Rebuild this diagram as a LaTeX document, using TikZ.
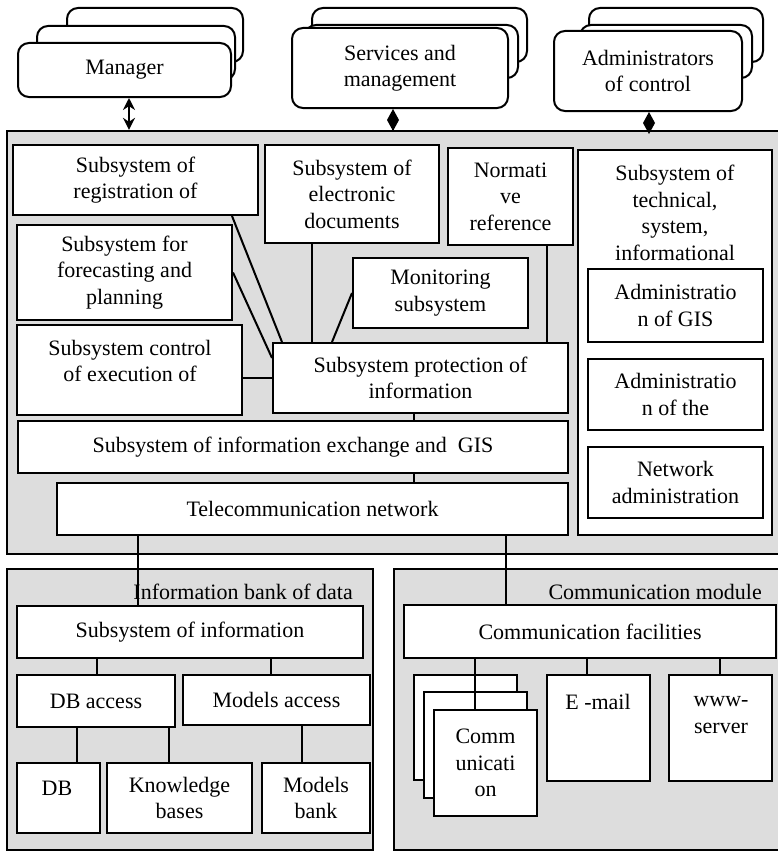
\documentclass[tikz,border=0pt]{standalone}
\usepackage{fontspec}
\setmainfont{Liberation Serif}
\usetikzlibrary{arrows.meta}

\tikzset{
  whitebox/.style={draw=black, fill=white, line width=2pt, inner sep=0pt,
    align=center, font=\fontsize{22}{26.5}\selectfont},
  roundbox/.style={whitebox, rounded corners=11pt},
  panel/.style={whitebox, fill=gray!27, line width=2.2pt},
  txt/.style={inner sep=0pt, align=center, font=\fontsize{22}{26.5}\selectfont},
  link/.style={draw=black, line width=2pt},
  dualtip/.style={{Stealth[length=12pt,width=12pt]}-{Stealth[length=12pt,width=12pt]}},
  diamondtip/.style={{Diamond[length=22pt,width=12pt]}-},
}

% \boxrect[style]{name}{left}{top}{right}{bottom}{text}, y measured downwards
\newcommand\boxrect[7][]{%
  \node[whitebox,#1,minimum width={#5-#3},minimum height={#6-#4}]
    (#2) at ({(#3+#5)/2},{-(#4+#6)/2}) {#7};}

\begin{document}
\begin{tikzpicture}[x=1pt,y=1pt]
\useasboundingbox (0,0) rectangle (777,-851);

% ---- actors (stacked cards) ----
\boxrect[roundbox]{mgrc}{67}{8}{243}{62}{}
\boxrect[roundbox]{mgrb}{37}{26}{235}{80}{}
\boxrect[roundbox]{mgr}{18}{43}{231}{97}{Manager}
\boxrect[roundbox]{svcc}{312}{8}{527}{62}{}
\boxrect[roundbox]{svcb}{305}{25}{518}{78}{}
\boxrect[roundbox]{svc}{292}{28}{508}{108}{Services and\\management}
\boxrect[roundbox]{admc}{589}{8}{763}{62}{}
\boxrect[roundbox]{admb}{580}{25}{752}{78}{}
\boxrect[roundbox]{adm}{554}{31}{742}{111}{Administrators\\of control}

% ---- core system panel ----
\boxrect[panel]{core}{7}{131}{795}{554}{}
\boxrect{reg}{13}{145}{258}{215}{Subsystem of\\registration of}
\boxrect{edoc}{265}{145}{439}{243}{Subsystem of\\electronic\\documents}
\boxrect{norm}{448}{148}{573}{245}{Normati\\ve\\reference}
\boxrect{fore}{17}{225}{232}{320}{Subsystem for\\forecasting and\\planning}
\boxrect{ctrl}{17}{325}{242}{415}{}
\node[txt] (ctrlt) at (130,-361) {Subsystem control\\of execution of};
\boxrect{mon}{353}{258}{528}{328}{Monitoring\\subsystem}
\boxrect{prot}{273}{343}{568}{413}{Subsystem protection of\\information}
\boxrect{tech}{578}{150}{772}{535}{}
\node[txt] (techt) at (675,-213) {Subsystem of\\technical,\\system,\\informational};
\boxrect{agis}{588}{269}{763}{342}{Administratio\\n of GIS}
\boxrect{athe}{588}{359}{763}{430}{Administratio\\n of the}
\boxrect{anet}{588}{447}{763}{518}{Network\\administration}
\boxrect{exch}{18}{421}{568}{473}{Subsystem of information exchange and\ \ GIS}
\boxrect{tel}{57}{483}{568}{535}{Telecommunication network}

% ---- information bank panel ----
\boxrect[panel]{bank}{7}{569}{373}{850}{}
\node[txt, anchor=base east] (bankt) at (353,-599) {Information bank of data};
\boxrect{soi}{17}{606}{363}{658}{Subsystem of information}
\boxrect{dba}{17}{675}{175}{727}{DB access}
\boxrect{ma}{183}{675}{370}{725}{Models access}
\boxrect{db}{17}{763}{100}{833}{}
\node[txt] (dbt) at (57,-788) {DB};
\boxrect{kb}{107}{763}{252}{833}{Knowledge\\bases}
\boxrect{mb}{262}{763}{370}{833}{Models\\bank}

% ---- communication panel ----
\boxrect[panel]{cmod}{394}{569}{795}{850}{}
\node[txt, anchor=base east] (cmodt) at (762,-599) {Communication module};
\boxrect{cf}{404}{605}{776}{658}{Communication facilities}
\boxrect{commc}{414}{675}{517}{780}{}
\boxrect{commb}{424}{692}{527}{798}{}
\boxrect{comm}{434}{710}{537}{816}{Comm\\unicati\\on}
\boxrect{mail}{547}{675}{650}{781}{}
\node[txt] (mailt) at (598,-702) {E -mail};
\boxrect{www}{669}{675}{772}{781}{}
\node[txt] (wwwt) at (721,-715) {www-\\server};

% ---- actor links ----
\coordinate (m1) at ([xshift=112pt]mgr.south west);
\draw[link, dualtip] (m1) -- (m1 |- core.north);
\coordinate (s1) at ([xshift=102pt]svc.south west);
\draw[link, diamondtip] (s1) -- (s1 |- core.north);
\coordinate (a1) at ([xshift=96pt]adm.south west);
\draw[link, diamondtip] (a1) -- (a1 |- core.north);

% ---- links into the protection subsystem ----
\draw[link] ([xshift=220pt]reg.south west) -- ([xshift=10pt]prot.north west);
\draw[link] (fore.east) -- ([yshift=20pt]prot.west);
\draw[link] (prot.west) -- (prot.west -| ctrl.east);
\coordinate (e1) at ([xshift=48pt]edoc.south west);
\draw[link] (e1) -- (e1 |- prot.north);
\draw[link] (mon.west) -- ([xshift=60pt]prot.north west);
\coordinate (n1) at ([xshift=100pt]norm.south west);
\draw[link] (n1) -- (n1 |- prot.north);
\coordinate (p1) at ([xshift=142pt]prot.south west);
\draw[link] (p1) -- (p1 |- exch.north);
\coordinate (x1) at (p1 |- exch.south);
\draw[link] (x1) -- (x1 |- tel.north);

% ---- network to lower modules ----
\coordinate (t1) at ([xshift=82pt]tel.south west);
\draw[link] (t1) -- (t1 |- soi.north);
\coordinate (t2) at ([xshift=450pt]tel.south west);
\draw[link] (t2) -- (t2 |- cf.north);

% ---- information bank links ----
\coordinate (i1) at ([xshift=81pt]soi.south west);
\draw[link] (i1) -- (i1 |- dba.north);
\coordinate (i2) at ([xshift=255pt]soi.south west);
\draw[link] (i2) -- (i2 |- ma.north);
\coordinate (d1) at ([xshift=61pt]dba.south west);
\draw[link] (d1) -- (d1 |- db.north);
\coordinate (d2) at ([xshift=153pt]dba.south west);
\draw[link] (d2) -- (d2 |- kb.north);
\coordinate (k1) at ([xshift=120pt]ma.south west);
\draw[link] (k1) -- (k1 |- mb.north);

% ---- communication links ----
\coordinate (c1) at ([xshift=72pt]cf.south west);
\draw[link] (c1) -- (c1 |- comm.north);
\coordinate (c2) at ([xshift=184pt]cf.south west);
\draw[link] (c2) -- (c2 |- mail.north);
\coordinate (c3) at ([xshift=317pt]cf.south west);
\draw[link] (c3) -- (c3 |- www.north);
\end{tikzpicture}
\end{document}
